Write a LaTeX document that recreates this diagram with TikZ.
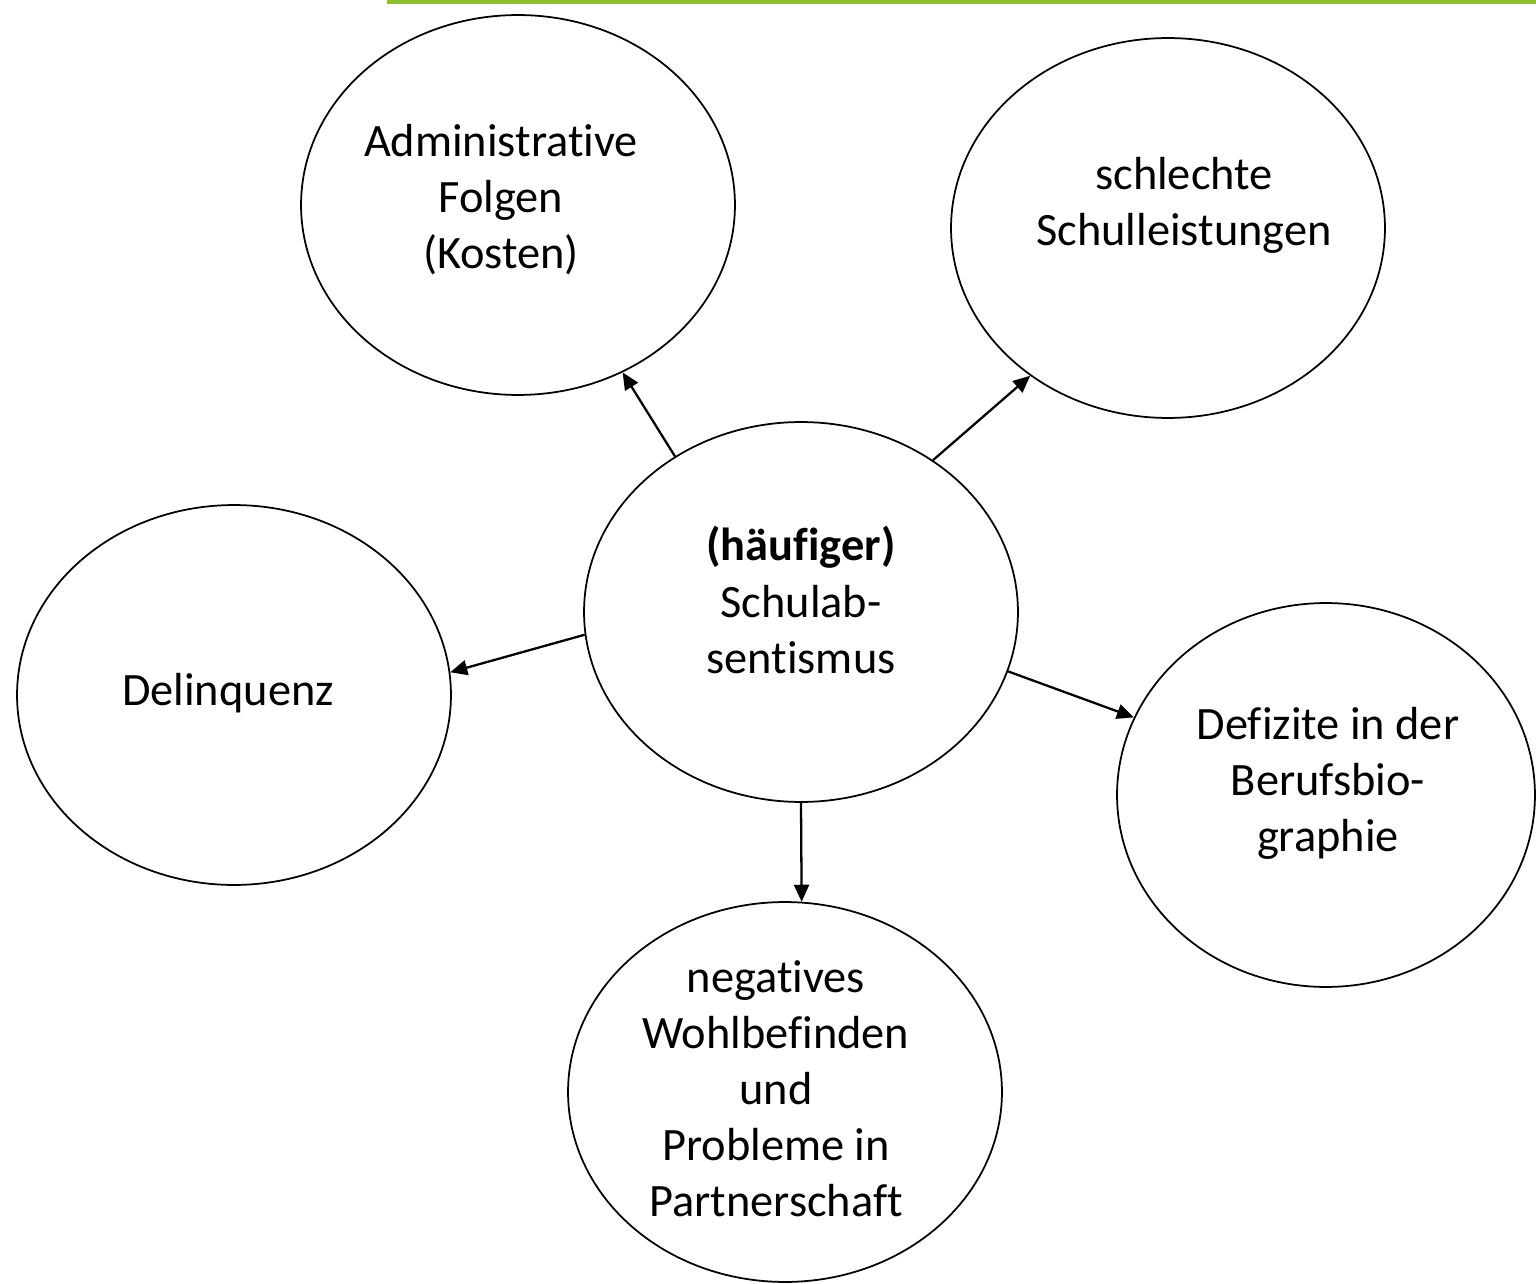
\documentclass[tikz,border=0pt]{standalone}
\usepackage{fontspec}
\setmainfont{Carlito}[Ligatures=NoCommon]
\usetikzlibrary{shapes.geometric,arrows.meta}
\definecolor{barGreen}{RGB}{141,192,49}
\begin{document}
\begin{tikzpicture}[x=0.02cm,y=-0.02cm,
  oval/.style={ellipse,draw=black,line width=1pt,inner sep=0pt,minimum width=8.68cm,minimum height=7.6cm},
  txt/.style={align=center,font=\fontsize{26.4pt}{31.9pt}\selectfont,inner sep=0pt},
  conn/.style={line width=1.3pt,-{Triangle[length=0.34cm,width=0.3cm]}}]
\useasboundingbox (0,0) rectangle (1536,1284);
\fill[barGreen] (387,0) rectangle (1536,4);
% ellipses
\node[oval] (c) at (801,612) {};
\node[oval] (a) at (518,205) {};
\node[oval] (s) at (1168,228) {};
\node[oval] (d) at (234,695) {};
\node[oval,minimum width=8.36cm,minimum height=7.68cm] (f) at (1326,795) {};
\node[oval] (n) at (785,1092) {};
% texts
\node[txt] (cT) at (801,600) {\textbf{(häufiger)}\\Schulab-\\sentismus};
\node[txt] (aT) at (501,200) {Administrative\\Folgen\\(Kosten)};
\node[txt] (sT) at (1184,205) {schlechte\\Schulleistungen};
\node[txt] (dT) at (228,693) {Delinquenz};
\node[txt] (fT) at (1328,783) {Defizite in der\\Berufsbio-\\graphie};
\node[txt] (nT) at (776,1089) {negatives\\Wohlbefinden\\und\\Probleme in\\Partnerschaft};
% connectors
\draw[conn] (c.129.9) -- (a.-58.3);
\draw[conn] (c.49.9) -- (s.227.3);
\draw[conn] (c.186.6) -- (d.6.3);
\draw[conn] (c.-16.9) -- (f.158.0);
\draw[conn] (c.-90) -- (n.85.2);
\end{tikzpicture}
\end{document}
